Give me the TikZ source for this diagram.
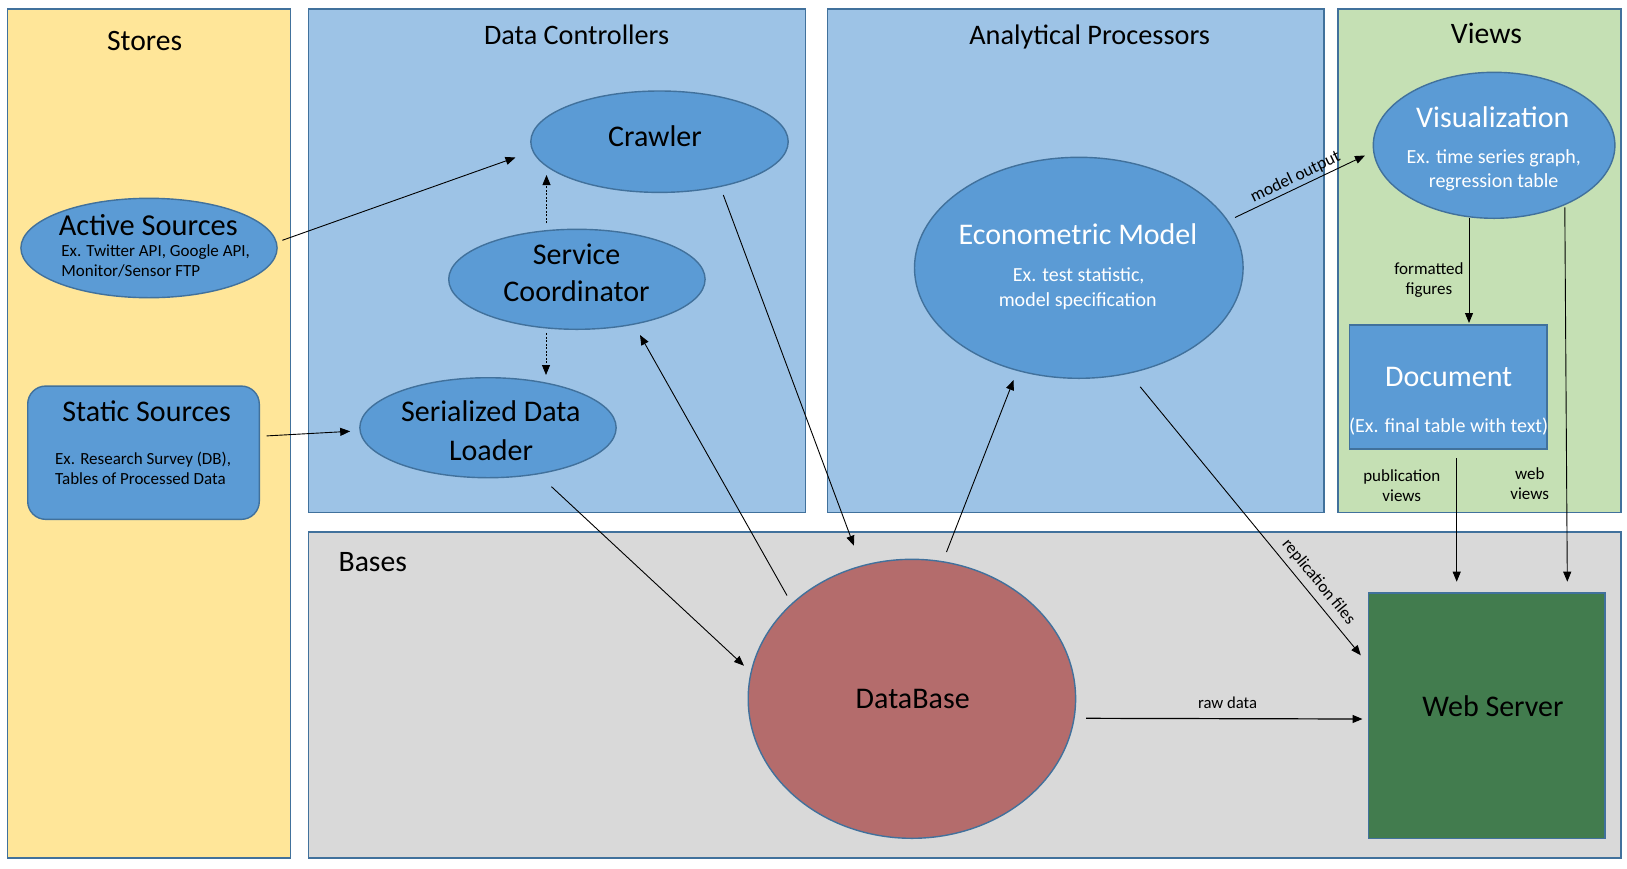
\documentclass[tikz,border=0pt]{standalone}
\usepackage{fontspec}
\setmainfont{Carlito}
\usetikzlibrary{shapes.geometric,arrows.meta}
\definecolor{storesfill}{HTML}{FFE699}
\definecolor{ctrlfill}{HTML}{9DC3E6}
\definecolor{viewsfill}{HTML}{C5E0B4}
\definecolor{basesfill}{HTML}{D9D9D9}
\definecolor{nodefill}{HTML}{5B9BD5}
\definecolor{bordc}{HTML}{41719C}
\definecolor{dbfill}{HTML}{B46C6C}
\definecolor{webfill}{HTML}{427C4E}
\tikzset{
  panel/.style={draw=bordc, line width=1.6pt},
  shp/.style={draw=bordc, line width=1.4pt, inner sep=0pt, outer sep=0pt},
  oval/.style={shp, ellipse, fill=nodefill},
  txt/.style={anchor=base, inner sep=0pt, text=black},
  txtbig/.style={txt, font=\fontsize{30}{36}\selectfont},
  txtsmall/.style={txt, font=\fontsize{17}{20}\selectfont},
  txtmid/.style={txt, font=\fontsize{20}{24}\selectfont},
  arr/.style={-{Triangle[length=10pt,width=8pt]}, line width=0.9pt, draw=black},
  dotarr/.style={arr, line width=0.8pt, dash pattern=on 2pt off 1.5pt},
  elab/.style={font=\fontsize{17}{20}\selectfont, text=black, align=center},
}
\begin{document}
\begin{tikzpicture}[x=1pt,y=-1pt]
\useasboundingbox (0,0) rectangle (1627,868);
\fill[white] (0,0) rectangle (1627,868);
% panels
\path[panel, fill=storesfill] (7.3,9) rectangle (290.5,857.7);
\path[panel, fill=ctrlfill] (308.6,9) rectangle (805.4,512.5);
\path[panel, fill=ctrlfill] (827.4,9) rectangle (1323.7,512.5);
\path[panel, fill=viewsfill] (1338,9) rectangle (1620.8,512.5);
\path[panel, fill=basesfill] (308.4,532) rectangle (1620.8,857.7);
% panel titles
\node[txt, font=\fontsize{29.6}{34}\selectfont] (tStores) at (144.6,50) {Stores};
\node[txt, font=\fontsize{28.2}{34}\selectfont] (tCtrl) at (576.6,44) {Data Controllers};
\node[txt, font=\fontsize{28.3}{34}\selectfont] (tProc) at (1089.6,44) {Analytical Processors};
\node[txt, font=\fontsize{29.7}{34}\selectfont] (tViews) at (1486.4,43.3) {Views};
\node[txt, anchor=base west, font=\fontsize{29.7}{34}\selectfont] (tBases) at (338.4,571.7) {Bases};
% shapes
\node[oval, minimum width=256.2pt, minimum height=99.4pt] (act) at (149,248) {};
\node[shp, fill=nodefill, rounded corners=18pt, minimum width=231.6pt, minimum height=133.3pt] (stat) at (143.5,452.7) {};
\node[oval, minimum width=257.4pt, minimum height=101.4pt] (crawl) at (659.5,141.7) {};
\node[oval, minimum width=256.4pt, minimum height=100pt] (sc) at (576.9,279.3) {};
\node[oval, minimum width=256.3pt, minimum height=100pt] (sdl) at (488,427.7) {};
\node[oval, minimum width=328.6pt, minimum height=221pt] (econ) at (1078.8,267.8) {};
\node[oval, minimum width=241.6pt, minimum height=146pt] (vis) at (1494.1,145.3) {};
\node[shp, fill=nodefill, minimum width=197.2pt, minimum height=124pt] (doc) at (1448.2,387) {};
\node[shp, ellipse, fill=dbfill, minimum width=327.4pt, minimum height=279pt] (db) at (911.9,698.8) {};
\node[shp, fill=webfill, minimum width=236.3pt, minimum height=245.3pt] (web) at (1486.7,715.7) {};
% texts
\node[txtbig] (crawlT) at (655,146.7) {Crawler};
\node[txtbig] (scT1) at (576.6,264.3) {Service};
\node[txtbig] (scT2) at (576.6,301.7) {Coordinator};
\node[txtbig] (sdlT1) at (490.8,421.7) {Serialized Data};
\node[txtbig] (sdlT2) at (491,460) {Loader};
\node[txtbig, anchor=base west, font=\fontsize{30.4}{36}\selectfont] (actT) at (58.6,235) {Active Sources};
\node[txtsmall, anchor=base west] (actT2) at (61.2,256.7) {Ex. Twitter API, Google API,};
\node[txtsmall, anchor=base west] (actT3) at (61.2,276.7) {Monitor/Sensor FTP};
\node[txtbig] (statT) at (146.7,421) {Static Sources};
\node[txtsmall, anchor=base west] (statT2) at (55,464) {Ex. Research Survey (DB),};
\node[txtsmall, anchor=base west] (statT3) at (55,484) {Tables of Processed Data};
\node[txtbig, text=white] (econT) at (1078,244) {Econometric Model};
\node[txtmid, text=white] (econT2) at (1078.7,281.7) {Ex. test statistic,};
\node[txtmid, text=white] (econT3) at (1077.7,306) {model specification};
\node[txtbig, text=white] (visT) at (1492.8,127.3) {Visualization};
\node[txtmid, text=white] (visT2) at (1493.8,163.3) {Ex. time series graph,};
\node[txtmid, text=white] (visT3) at (1493.6,187.7) {regression table};
\node[txtbig, text=white] (docT) at (1448.7,386.7) {Document};
\node[txtmid, text=white] (docT2) at (1448.7,432.3) {(Ex. final table with text)};
\node[txtbig] (dbT) at (912.7,708.3) {DataBase};
\node[txtbig] (webT) at (1493,716) {Web Server};
% connectors
\draw[arr] ([shift={(133.3,-7.7)}]act.center) -- ([shift={(-144,15.8)}]crawl.center);
\draw[dotarr] ([shift={(-30.4,-56)}]sc.center) -- ([shift={(-113,33.3)}]crawl.center);
\draw[dotarr] ([shift={(-30.9,54)}]sc.center) -- ([shift={(58,-52.7)}]sdl.center);
\draw[arr] ([shift={(123.2,-16.8)}]stat.center) -- ([shift={(-137.8,3.6)}]sdl.center);
\draw[arr] ([shift={(63.5,59)}]sdl.center) -- ([shift={(-167.9,-33.1)}]db.center);
\draw[arr] ([shift={(-124.9,-103.3)}]db.center) -- ([shift={(63.1,55.7)}]sc.center);
\draw[arr] ([shift={(63.8,53.3)}]crawl.center) -- ([shift={(-58,-153.1)}]db.center);
\draw[arr] ([shift={(34.6,-146.8)}]db.center) -- ([shift={(-65.2,112.2)}]econ.center);
\draw[arr] ([shift={(61.4,119)}]econ.center) -- node[elab, sloped, above, pos=0.76, inner sep=6pt] (lRep) {replication files} ([shift={(-125.9,-60.4)}]web.center);
\draw[arr] ([shift={(156.2,-50.3)}]econ.center) -- node[elab, sloped, above, pos=0.5, inner sep=2.5pt, font=\fontsize{17.4}{20}\selectfont] (lModel) {model output} ([shift={(-129.1,10.2)}]vis.center);
\draw[arr, line width=1.2pt] ([shift={(174.1,19.5)}]db.center) -- node[elab, above, pos=0.512, inner sep=9pt, font=\fontsize{16.7}{20}\selectfont] (lRaw) {raw data} ([shift={(-124.2,3.3)}]web.center);
\draw[arr] ([shift={(-25.1,72.7)}]vis.center) -- node[elab, left, pos=0.588, inner sep=5pt] (lFmt) {formatted\\figures} ([shift={(20.8,-64)}]doc.center);
\draw[arr] ([shift={(8.5,71.3)}]doc.center) -- node[elab, left, pos=0.222, inner sep=2pt, xshift=-14pt] (lPub) {publication\\views} ([shift={(-30,-134)}]web.center);
\draw[arr] ([shift={(70.7,62)}]vis.center) -- node[elab, left, pos=0.739, inner sep=2pt, xshift=-15.2pt] (lWeb) {web\\views} ([shift={(80.6,-134)}]web.center);
\end{tikzpicture}
\end{document}
